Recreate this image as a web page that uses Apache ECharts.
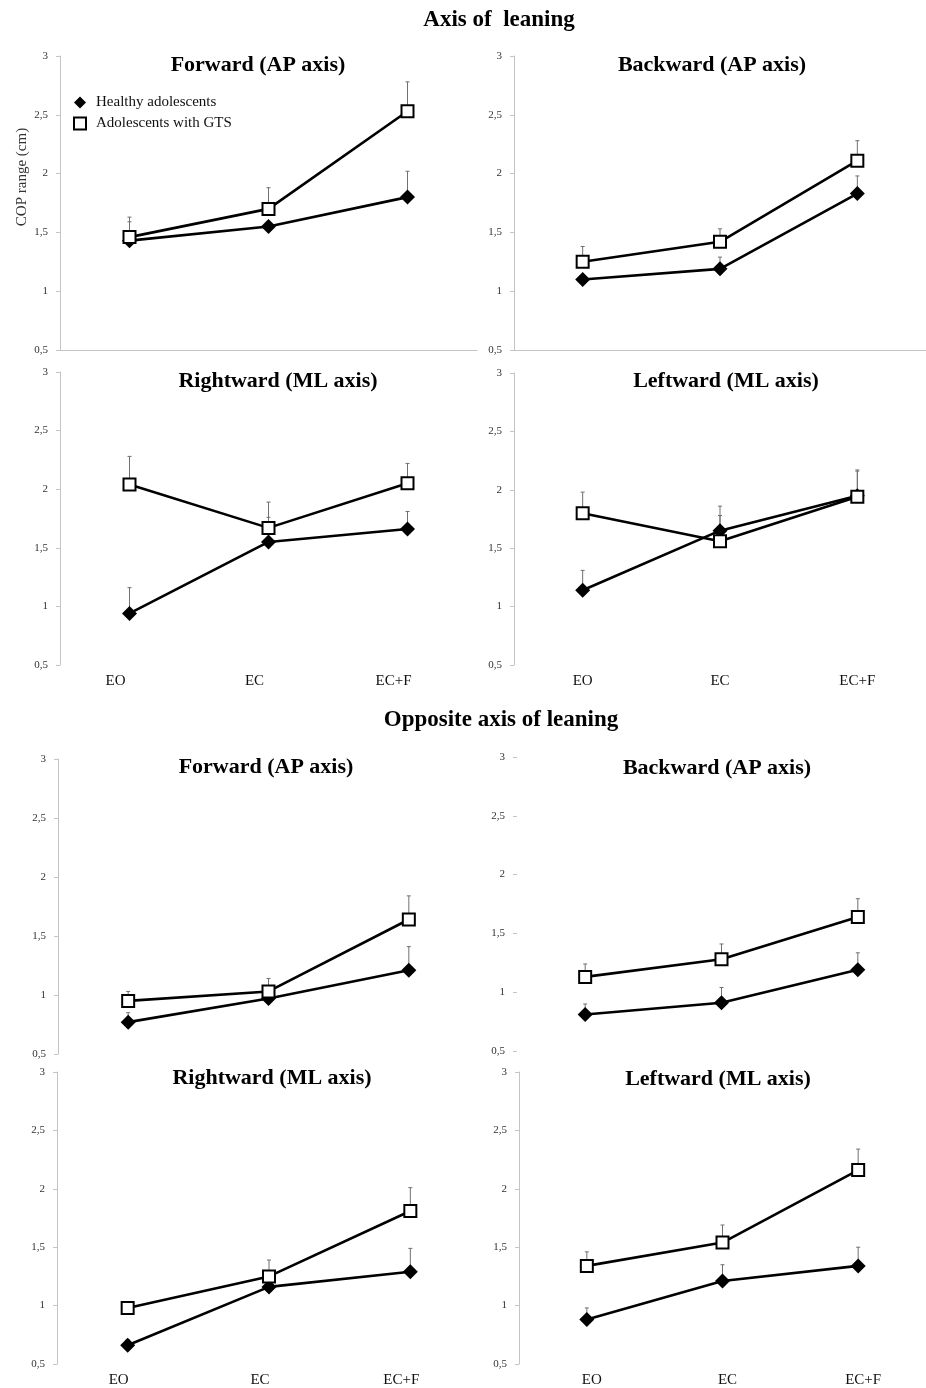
<!DOCTYPE html>
<html>
<head>
<meta charset="utf-8">
<script src="https://cdn.jsdelivr.net/npm/echarts@6/dist/echarts.min.js"></script>
<style>
  html, body { margin: 0; padding: 0; background: #fff; }
  #chart { width: 926px; height: 1388px; }
</style>
</head>
<body>
<div id="chart"></div>
<script>
// Conditions and axis ticks
const categories = ['EO', 'EC', 'EC+F'];
const yTickLabels = ['0,5', '1', '1,5', '2', '2,5', '3'];
const groupNames = ['Healthy adolescents', 'Adolescents with GTS'];
const sectionTitles = ['Axis of  leaning', 'Opposite axis of leaning'];
const panelTitles = [
  'Forward (AP axis)', 'Backward (AP axis)', 'Rightward (ML axis)', 'Leftward (ML axis)',
  'Forward (AP axis)', 'Backward (AP axis)', 'Rightward (ML axis)', 'Leftward (ML axis)'
];

// COP range (cm): means and upper error (null = not drawn)
// Axis of leaning
const leanFwdHealthy = [1.43, 1.55, 1.80];
const leanFwdGTS = [1.46, 1.70, 2.53];
const leanFwdHealthyErr = [0.16, null, 0.22];
const leanFwdGTSErr = [0.17, 0.18, 0.25];

const leanBwdHealthy = [1.10, 1.19, 1.83];
const leanBwdGTS = [1.25, 1.42, 2.11];
const leanBwdHealthyErr = [null, 0.10, 0.15];
const leanBwdGTSErr = [0.13, 0.11, 0.17];

const leanRightHealthy = [0.94, 1.55, 1.66];
const leanRightGTS = [2.04, 1.67, 2.05];
const leanRightHealthyErr = [0.22, 0.21, 0.15];
const leanRightGTSErr = [0.24, 0.22, 0.17];

const leanLeftHealthy = [1.14, 1.65, 1.95];
const leanLeftGTS = [1.80, 1.56, 1.94];
const leanLeftHealthyErr = [0.17, 0.21, 0.21];
const leanLeftGTSErr = [0.18, 0.22, 0.23];

// Opposite axis of leaning
const oppFwdHealthy = [0.77, 0.97, 1.21];
const oppFwdGTS = [0.95, 1.03, 1.64];
const oppFwdHealthyErr = [0.08, null, 0.20];
const oppFwdGTSErr = [0.08, 0.11, 0.20];

const oppBwdHealthy = [0.81, 0.91, 1.19];
const oppBwdGTS = [1.13, 1.28, 1.64];
const oppBwdHealthyErr = [0.09, 0.13, 0.145];
const oppBwdGTSErr = [0.11, 0.13, 0.155];

const oppRightHealthy = [0.66, 1.16, 1.29];
const oppRightGTS = [0.98, 1.25, 1.81];
const oppRightHealthyErr = [0.05, null, 0.20];
const oppRightGTSErr = [null, 0.14, 0.20];

const oppLeftHealthy = [0.88, 1.21, 1.34];
const oppLeftGTS = [1.34, 1.54, 2.16];
const oppLeftHealthyErr = [0.10, 0.14, 0.16];
const oppLeftGTSErr = [0.12, 0.15, 0.18];

// Significance marks (Φ): [panel index, category index, height in cm]
const sigMarks = [[0, 2, 2.92], [2, 0, 2.49], [3, 0, 2.24]];

const panelData = [
  [leanFwdHealthy, leanFwdGTS, leanFwdHealthyErr, leanFwdGTSErr],
  [leanBwdHealthy, leanBwdGTS, leanBwdHealthyErr, leanBwdGTSErr],
  [leanRightHealthy, leanRightGTS, leanRightHealthyErr, leanRightGTSErr],
  [leanLeftHealthy, leanLeftGTS, leanLeftHealthyErr, leanLeftGTSErr],
  [oppFwdHealthy, oppFwdGTS, oppFwdHealthyErr, oppFwdGTSErr],
  [oppBwdHealthy, oppBwdGTS, oppBwdHealthyErr, oppBwdGTSErr],
  [oppRightHealthy, oppRightGTS, oppRightHealthyErr, oppRightGTSErr],
  [oppLeftHealthy, oppLeftGTS, oppLeftHealthyErr, oppLeftGTSErr]
];

// Panel geometry
const layouts = [
  { left: 60,  top: 56,   width: 417, height: 294, tx: 258, ty: 65,   xLabels: false, xLine: true,  yLine: true, shift: 0 },
  { left: 514, top: 56,   width: 419, height: 294, tx: 712, ty: 65,   xLabels: false, xLine: true,  yLine: true, shift: 0 },
  { left: 60,  top: 372,  width: 417, height: 293, tx: 278, ty: 381,  xLabels: true,  xLine: false, yLine: true, shift: -14 },
  { left: 514, top: 373,  width: 420, height: 292, tx: 726, ty: 381,  xLabels: true,  xLine: false, yLine: true, shift: 0 },
  { left: 58,  top: 759,  width: 421, height: 295, tx: 266, ty: 767,  xLabels: false, xLine: false, yLine: true, shift: 0 },
  { left: 517, top: 757,  width: 423, height: 294, tx: 717, ty: 768,  xLabels: false, xLine: false, yLine: false, shift: 0 },
  { left: 57,  top: 1072, width: 424, height: 293, tx: 272, ty: 1078, xLabels: true,  xLine: false, yLine: true, shift: -9 },
  { left: 519, top: 1072, width: 423, height: 293, tx: 718, ty: 1079, xLabels: true,  xLine: false, yLine: true, shift: 5 }
];

const SERIF = '"Liberation Serif", "Times New Roman", serif';
const AXIS_GRAY = '#c4c4c4';

const grids = [], xAxes = [], yAxes = [], series = [], graphics = [];

function errorBarSeries(idx, means, errs, name) {
  const data = [];
  means.forEach((m, i) => { if (errs[i] != null) data.push([i, m, m + errs[i]]); });
  return {
    type: 'custom',
    name: name,
    xAxisIndex: idx, yAxisIndex: idx,
    z: 1,
    silent: true,
    data: data,
    renderItem: function (params, api) {
      const base = api.coord([api.value(0), api.value(1)]);
      const top = api.coord([api.value(0), api.value(2)]);
      const cap = 2;
      const style = { stroke: '#707070', lineWidth: 1 };
      return {
        type: 'group',
        children: [
          { type: 'line', shape: { x1: base[0], y1: base[1], x2: top[0], y2: top[1] }, style: style },
          { type: 'line', shape: { x1: top[0] - cap, y1: top[1], x2: top[0] + cap, y2: top[1] }, style: style }
        ]
      };
    }
  };
}

layouts.forEach((L, idx) => {
  grids.push({ left: L.left, top: L.top, width: L.width, height: L.height, containLabel: false });

  const pad = L.shift < 0 ? [0, -2 * L.shift, 0, 0] : [0, 0, 0, 2 * L.shift];
  xAxes.push({
    type: 'category',
    gridIndex: idx,
    data: categories,
    boundaryGap: true,
    axisLine: { show: L.xLine, lineStyle: { color: AXIS_GRAY, width: 1 } },
    axisTick: { show: false },
    axisLabel: {
      show: L.xLabels, margin: 9, padding: pad,
      fontFamily: SERIF, fontSize: 15, color: '#111'
    },
    splitLine: { show: false }
  });

  yAxes.push({
    type: 'value',
    gridIndex: idx,
    min: 0.5, max: 3, interval: 0.5,
    axisLine: { show: L.yLine, lineStyle: { color: AXIS_GRAY, width: 1 } },
    axisTick: { show: true, length: 4, lineStyle: { color: AXIS_GRAY } },
    axisLabel: {
      margin: 12, fontFamily: SERIF, fontSize: 11, color: '#333',
      formatter: v => yTickLabels[Math.round((v - 0.5) / 0.5)]
    },
    splitLine: { show: false }
  });

  const [healthy, gts, healthyErr, gtsErr] = panelData[idx];

  series.push(errorBarSeries(idx, healthy, healthyErr, groupNames[0] + ' error'));
  series.push(errorBarSeries(idx, gts, gtsErr, groupNames[1] + ' error'));

  series.push({
    type: 'line',
    name: groupNames[0],
    xAxisIndex: idx, yAxisIndex: idx,
    data: healthy,
    symbol: 'diamond',
    symbolSize: 15,
    showAllSymbol: true,
    z: 3,
    lineStyle: { color: '#000', width: 2.6 },
    itemStyle: { color: '#000' },
    emphasis: { disabled: true }
  });
  series.push({
    type: 'line',
    name: groupNames[1],
    xAxisIndex: idx, yAxisIndex: idx,
    data: gts,
    symbol: 'rect',
    symbolSize: 12,
    showAllSymbol: true,
    z: 4,
    lineStyle: { color: '#000', width: 2.6 },
    itemStyle: { color: '#fff', borderColor: '#000', borderWidth: 2 },
    emphasis: { disabled: true }
  });

  const marks = sigMarks.filter(m => m[0] === idx).map(m => [m[1], m[2]]);
  if (marks.length) {
    series.push({
      type: 'scatter',
      name: 'sig',
      xAxisIndex: idx, yAxisIndex: idx,
      data: marks,
      symbolSize: 1,
      itemStyle: { opacity: 0 },
      z: 5,
      silent: true,
      label: {
        show: true, position: 'inside', formatter: 'Φ',
        fontFamily: SERIF, fontSize: 17, color: '#111'
      }
    });
  }

  graphics.push({
    type: 'text', x: L.tx, y: L.ty,
    style: {
      text: panelTitles[idx], fill: '#000',
      font: 'bold 22px ' + SERIF, textAlign: 'center', textVerticalAlign: 'middle'
    }
  });
});

// Section headings
graphics.push({
  type: 'text', x: 499, y: 20,
  style: { text: sectionTitles[0], fill: '#000', font: 'bold 23px ' + SERIF, textAlign: 'center', textVerticalAlign: 'middle' }
});
graphics.push({
  type: 'text', x: 501, y: 720,
  style: { text: sectionTitles[1], fill: '#000', font: 'bold 23px ' + SERIF, textAlign: 'center', textVerticalAlign: 'middle' }
});

// Y-axis title of the first panel
graphics.push({
  type: 'text', x: 22, y: 177, rotation: Math.PI / 2,
  style: { text: 'COP range (cm)', fill: '#333', font: '15px ' + SERIF, textAlign: 'center', textVerticalAlign: 'middle' }
});

const chart = echarts.init(document.getElementById('chart'), null, { renderer: 'canvas' });
chart.setOption({
  backgroundColor: '#fff',
  animation: false,
  grid: grids,
  xAxis: xAxes,
  yAxis: yAxes,
  legend: {
    left: 68, top: 90,
    orient: 'vertical',
    itemWidth: 12, itemHeight: 12, itemGap: 6,
    selectedMode: false,
    data: [
      { name: groupNames[0], icon: 'diamond' },
      { name: groupNames[1], icon: 'rect' }
    ],
    textStyle: { fontFamily: SERIF, fontSize: 15, color: '#111', padding: [0, 0, 0, 5] }
  },
  series: series,
  graphic: graphics
});
</script>
</body>
</html>
